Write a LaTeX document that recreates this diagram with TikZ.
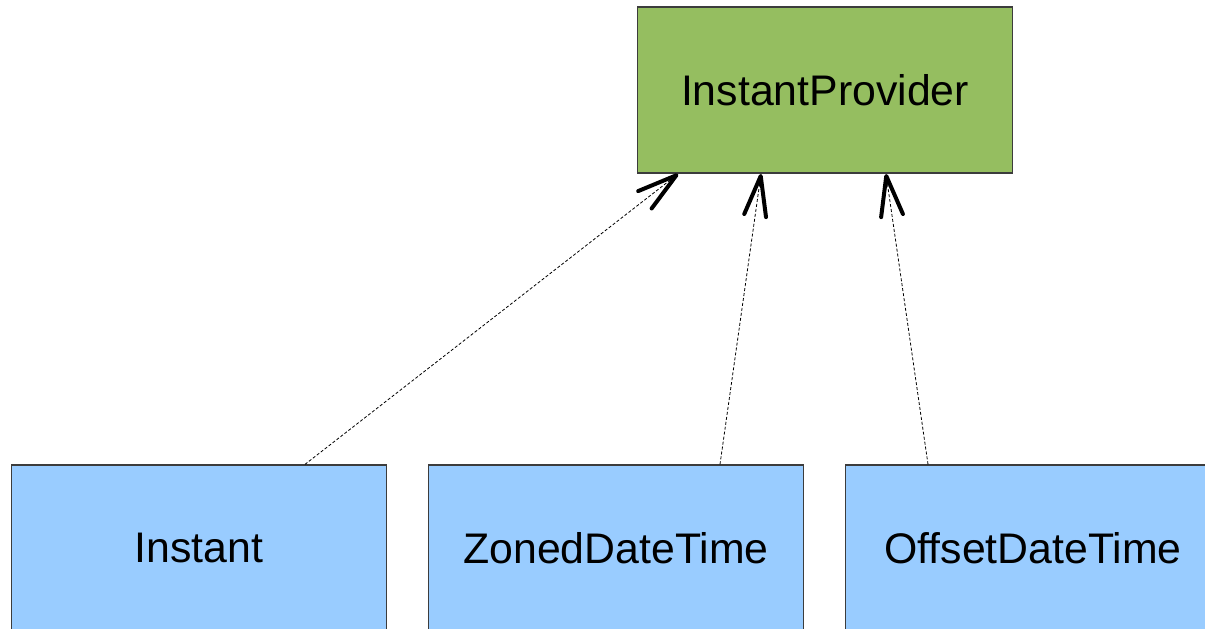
\documentclass[tikz,border=0pt]{standalone}
\usepackage{fontspec}
\setmainfont{Liberation Sans}
\usetikzlibrary{arrows.meta}
\definecolor{provgreen}{RGB}{149,190,96}
\definecolor{implblue}{RGB}{153,204,255}
\definecolor{boxedge}{RGB}{60,60,60}
\begin{document}
\begin{tikzpicture}[x=1pt,y=-1pt,
  box/.style={draw=boxedge, line width=1.3pt, minimum width=375pt, minimum height=166pt,
    inner sep=0pt, font=\fontsize{42.8}{50}\selectfont},
  impl/.style={dashed, dash pattern=on 3pt off 2pt, line width=0.8pt,
    -{Straight Barb[length=40pt,width=22pt,line width=4pt,round]}}]
\useasboundingbox (0,0) rectangle (1205,629);
\clip (0,0) rectangle (1205,629);
\node[box, fill=provgreen] (prov) at (825,90) {InstantProvider};
\node[box, fill=implblue] (inst) at (199,548) {Instant};
\node[box, fill=implblue] (zdt) at (616,548) {ZonedDateTime};
\node[box, fill=implblue] (odt) at (1033,548) {OffsetDateTime};
\coordinate (pa) at (678,174);
\coordinate (pb) at (761,174);
\coordinate (pc) at (886,174);
\draw[impl] (inst.north -| 305,0) -- (pa);
\draw[impl] (zdt.north -| 720,0) -- (pb);
\draw[impl] (odt.north -| 928,0) -- (pc);
\end{tikzpicture}
\end{document}
